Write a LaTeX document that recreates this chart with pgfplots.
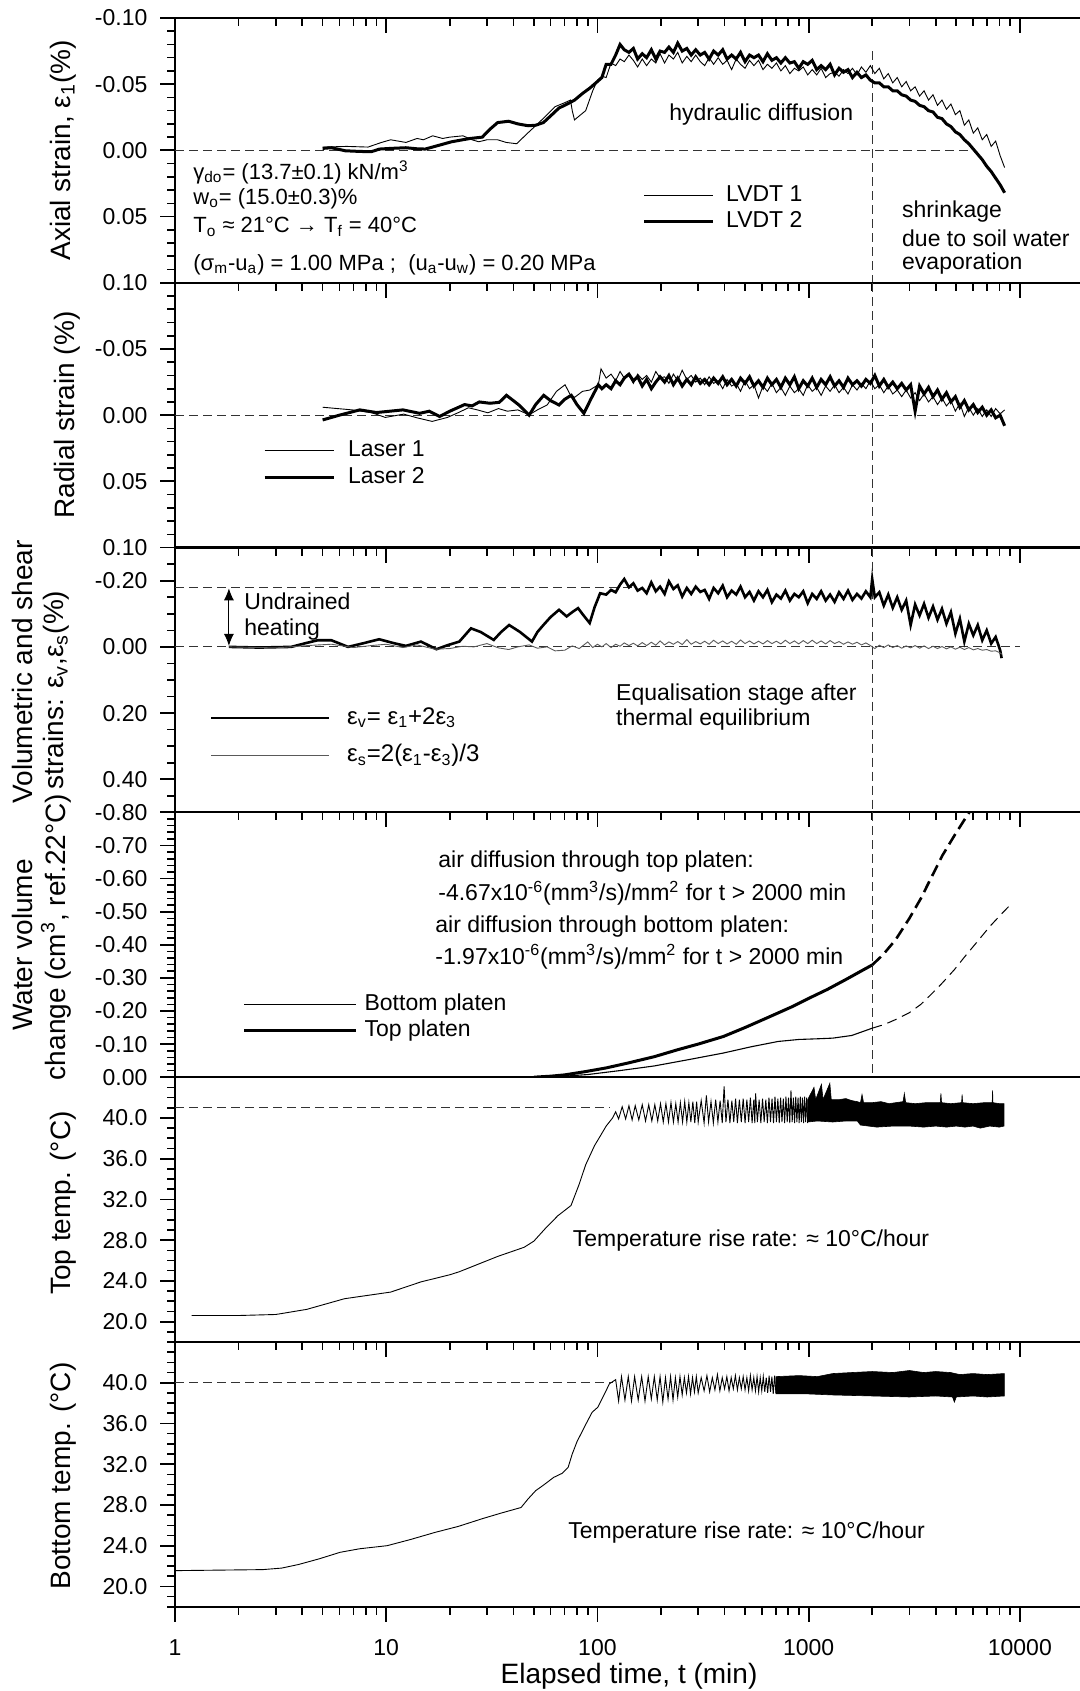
\documentclass[border=0pt]{standalone}
\usepackage{fontspec}
\setmainfont{Liberation Sans}
\usepackage{pgfplots}
\pgfplotsset{compat=1.18}
\usetikzlibrary{arrows.meta}
\newcommand{\fnt}[1]{\fontsize{#1}{#1}\selectfont}
\pgfplotsset{
  mypanel/.style={
    scale only axis, width=454.2pt, height=132.4pt,
    xmin=1, xmax=20000,
    xtick={1,10,100,1000,10000},
    minor xtick={2,3,4,5,6,7,8,9,20,30,40,50,60,70,80,90,200,300,400,500,600,700,800,900,2000,3000,4000,5000,6000,7000,8000,9000,20000},
    xticklabels={},
    tick align=outside,
    ytick pos=left,
    major tick length=7.5pt, minor tick length=4pt,
    axis line style={line width=1.1pt},
    major tick style={line width=0.9pt,black},
    minor tick style={line width=0.8pt,black},
    tick label style={font=\fnt{11.5}},
    yticklabel style={xshift=-2.8pt},
    xticklabel style={yshift=-5.5pt},
    legend cell align=left,
    legend style={draw=none, fill=none, inner sep=0pt, outer sep=0pt,
      nodes={inner sep=0pt, text height=8.5pt, text depth=2.5pt},
      font=\fnt{11.5}, anchor=north west},
  },
  leglen/.style={legend image code/.code={\draw[##1] (0pt,0pt) -- (#1,0pt);}},
  myrev/.style={y dir=reverse, xtick pos=right, xtick align=inside},
  mynrm/.style={xtick pos=left},
  refl/.style={black!80, line width=0.5pt, dash pattern=on 4.5pt off 2.5pt},
  thinl/.style={black, line width=0.45pt},
  thickl/.style={black, line width=1.5pt},
}
\begin{document}
\begin{tikzpicture}
\useasboundingbox (0pt,0pt) rectangle (540pt,845.5pt);
%================ Panel 1: axial strain
\begin{semilogxaxis}[mypanel, myrev, at={(87.5pt,836.5pt)}, anchor=north west,
  ymin=-0.1, ymax=0.1,
  ytick={-0.1,-0.05,0,0.05,0.1}, yticklabels={-0.10,-0.05,0.00,0.05,0.10},
  minor ytick={-0.09,-0.08,-0.07,-0.06,-0.04,-0.03,-0.02,-0.01,0.01,0.02,0.03,0.04,0.06,0.07,0.08,0.09},
  legend style={at={(axis cs:164.2,0.0258)}, column sep=5.65pt, row sep=1.75pt},
  leglen=34.5pt]
\addplot[refl, forget plot] coordinates {(1,0) (6000,0)};
\addplot[refl, forget plot] coordinates {(2000,-0.075) (2000,0.1)};
\addplot[thinl] coordinates {
(5,-0.0025)(6.5,-0.003)(8.2,-0.0025)(9.5,-0.006)(10.5,-0.008)(12.4,-0.006)(14,-0.009)(15,-0.008)(16.6,-0.011)(18.5,-0.009)(20,-0.010)(23.1,-0.011)(25.5,-0.008)(27.4,-0.0065)(30,-0.008)(33.7,-0.008)(37,-0.006)(41.5,-0.005)(46,-0.012)(51.3,-0.019)(57,-0.026)(63,-0.033)(70,-0.036)(74.6,-0.038)(76,-0.030)(77.9,-0.023)(82,-0.026)(88,-0.030)(95,-0.045)(100,-0.053)
(105,-0.056)(110,-0.055)(116,-0.066)(122,-0.064)(128,-0.069)(134,-0.067)(141,-0.072)(148,-0.068)(155,-0.063)(163,-0.069)(171,-0.064)(180,-0.069)(189,-0.066)(198,-0.073)(208,-0.066)(218,-0.072)(229,-0.069)(240,-0.074)(252,-0.066)(265,-0.071)(278,-0.067)(292,-0.072)(307,-0.067)(322,-0.064)(338,-0.070)(355,-0.065)(373,-0.070)(392,-0.065)(411,-0.068)(432,-0.061)(454,-0.069)(476,-0.065)(500,-0.062)(525,-0.068)(551,-0.064)(579,-0.068)(608,-0.061)(638,-0.065)(670,-0.062)(704,-0.066)(739,-0.060)(776,-0.064)(815,-0.058)(856,-0.062)(898,-0.060)(943,-0.063)(990,-0.057)(1040,-0.061)(1092,-0.057)(1146,-0.062)(1204,-0.055)(1264,-0.058)(1327,-0.059)(1393,-0.056)(1463,-0.061)(1536,-0.058)(1613,-0.062)(1694,-0.057)(1778,-0.063)(1867,-0.059)(1960,-0.064)(2058,-0.058)(2161,-0.062)(2269,-0.054)(2383,-0.058)(2502,-0.051)(2627,-0.055)(2758,-0.048)(2896,-0.052)(3041,-0.045)(3193,-0.048)(3353,-0.041)(3520,-0.045)(3696,-0.038)(3881,-0.042)(4075,-0.034)(4279,-0.038)(4493,-0.031)(4717,-0.035)(4953,-0.027)(5201,-0.030)(5461,-0.019)(5734,-0.023)(6021,-0.013)(6322,-0.017)(6638,-0.008)(6970,-0.012)(7318,-0.003)(7684,-0.007)(8068,0.004)(8472,0.013)};
\addlegendentry{LVDT 1}
\addplot[thickl] coordinates {
(5,-0.0015)(5.5,-0.002)(6.4,0.0003)(7.5,0.0008)(8.5,0.001)(9.3,-0.001)(10.5,-0.0015)(12.4,-0.002)(14,-0.0012)(15.3,-0.001)(17,-0.003)(20.4,-0.0065)(23,-0.008)(25,-0.009)(28.5,-0.010)(31,-0.016)(33.7,-0.021)(38,-0.022)(42,-0.020)(47,-0.0186)(51,-0.019)(55.5,-0.021)(60,-0.026)(65.8,-0.032)(72,-0.035)(78,-0.038)(85,-0.043)(92,-0.047)(100,-0.052)
(105,-0.055)(110,-0.065)(116,-0.065)(122,-0.072)(128,-0.080)(134,-0.076)(141,-0.074)(148,-0.077)(155,-0.069)(163,-0.073)(171,-0.070)(180,-0.076)(189,-0.069)(198,-0.075)(208,-0.074)(218,-0.078)(229,-0.074)(240,-0.081)(252,-0.075)(265,-0.077)(278,-0.072)(292,-0.076)(307,-0.072)(322,-0.074)(338,-0.069)(355,-0.075)(373,-0.072)(392,-0.076)(411,-0.069)(432,-0.072)(454,-0.069)(476,-0.074)(500,-0.067)(525,-0.072)(551,-0.070)(579,-0.072)(608,-0.067)(638,-0.073)(670,-0.068)(704,-0.070)(739,-0.066)(776,-0.070)(815,-0.066)(856,-0.067)(898,-0.062)(943,-0.067)(990,-0.065)(1040,-0.068)(1092,-0.061)(1146,-0.064)(1204,-0.061)(1264,-0.065)(1327,-0.057)(1393,-0.062)(1463,-0.059)(1536,-0.061)(1613,-0.055)(1694,-0.059)(1778,-0.055)(1867,-0.057)(1960,-0.053)(2058,-0.051)(2161,-0.051)(2269,-0.048)(2383,-0.048)(2502,-0.045)(2627,-0.045)(2758,-0.042)(2896,-0.041)(3041,-0.038)(3193,-0.037)(3353,-0.034)(3520,-0.033)(3696,-0.030)(3881,-0.029)(4075,-0.025)(4279,-0.024)(4493,-0.020)(4717,-0.018)(4953,-0.014)(5201,-0.012)(5461,-0.008)(5734,-0.005)(6021,-0.001)(6322,0.003)(6638,0.007)(6970,0.012)(7318,0.016)(7684,0.021)(8068,0.026)(8472,0.032)};
\addlegendentry{LVDT 2}
\end{semilogxaxis}
%================ Panel 2: radial strain
\begin{semilogxaxis}[mypanel, myrev, at={(87.5pt,704.1pt)}, anchor=north west,
  ymin=-0.1, ymax=0.1,
  ytick={-0.1,-0.05,0,0.05,0.1}, yticklabels={,-0.05,0.00,0.05,0.10},
  minor ytick={-0.09,-0.08,-0.07,-0.06,-0.04,-0.03,-0.02,-0.01,0.01,0.02,0.03,0.04,0.06,0.07,0.08,0.09},
  legend style={at={(axis cs:2.616,0.0185)}, column sep=6.4pt, row sep=2.5pt},
  leglen=34.5pt]
\addplot[refl, forget plot] coordinates {(1,0) (5000,0)};
\addplot[refl, forget plot] coordinates {(2000,-0.1) (2000,0.1)};
\addplot[thinl] coordinates {
(5,-0.006)(6.9,-0.004)(8.5,-0.002)(9.9,0.0017)(12.1,-0.0008)(14,0.002)(16.5,0.0047)(19.5,0.0017)(22,-0.002)(24.5,-0.0056)(27,-0.004)(30.3,-0.0018)(34,-0.005)(37.5,-0.003)(42,-0.004)(47.5,-0.0003)(52,-0.004)(57.8,-0.0077)(64,-0.018)(70.3,-0.023)(74,-0.016)(78,-0.0135)(85,-0.018)(92,-0.019)(101,-0.023)(104,-0.035)
(110,-0.028)(116,-0.031)(122,-0.026)(128,-0.033)(134,-0.028)(141,-0.030)(148,-0.024)(155,-0.031)(163,-0.027)(171,-0.030)(180,-0.025)(189,-0.033)(198,-0.028)(208,-0.029)(218,-0.024)(229,-0.031)(240,-0.026)(252,-0.034)(265,-0.027)(278,-0.030)(292,-0.025)(307,-0.028)(322,-0.023)(338,-0.029)(355,-0.024)(373,-0.026)(392,-0.020)(411,-0.027)(432,-0.022)(454,-0.024)(476,-0.018)(500,-0.026)(525,-0.020)(551,-0.023)(579,-0.013)(608,-0.022)(638,-0.018)(670,-0.024)(704,-0.017)(739,-0.021)(776,-0.015)(815,-0.022)(856,-0.017)(898,-0.020)(943,-0.015)(990,-0.023)(1040,-0.018)(1092,-0.021)(1146,-0.015)(1204,-0.022)(1264,-0.018)(1327,-0.023)(1393,-0.017)(1463,-0.021)(1536,-0.016)(1613,-0.023)(1694,-0.019)(1778,-0.024)(1867,-0.020)(1960,-0.026)(2058,-0.020)(2161,-0.023)(2269,-0.017)(2383,-0.022)(2502,-0.016)(2627,-0.019)(2758,-0.014)(2896,-0.019)(3041,-0.013)(3193,-0.017)(3353,-0.011)(3520,-0.016)(3696,-0.010)(3881,-0.014)(4075,-0.008)(4279,-0.013)(4493,-0.007)(4717,-0.011)(4953,-0.003)(5201,-0.009)(5461,0.001)(5734,-0.006)(6021,0.000)(6322,-0.005)(6638,0.001)(6970,-0.004)(7318,0.001)(7684,-0.005)(8068,-0.001)(8472,-0.004)};
\addlegendentry{Laser 1}
\addplot[thickl] coordinates {
(5,0.0036)(6,0.000)(7.5,-0.004)(9,-0.002)(10.4,-0.003)(12,-0.004)(14.4,-0.0014)(16,-0.003)(17.9,0.001)(20,-0.003)(23.5,-0.008)(25.5,-0.007)(27.6,-0.010)(31,-0.009)(34.3,-0.0097)(37.1,-0.015)(40,-0.011)(42.5,-0.0077)(47.5,0.000)(51,-0.008)(55.7,-0.015)(60,-0.011)(65.8,-0.0077)(70,-0.012)(75.2,-0.015)(80,-0.008)(86.3,-0.0014)(93,-0.012)(101,-0.023)
(105,-0.020)(110,-0.023)(116,-0.020)(122,-0.026)(128,-0.023)(134,-0.028)(141,-0.031)(148,-0.026)(155,-0.029)(163,-0.022)(171,-0.027)(180,-0.020)(189,-0.025)(198,-0.029)(208,-0.025)(218,-0.030)(229,-0.023)(240,-0.028)(252,-0.022)(265,-0.027)(278,-0.023)(292,-0.029)(307,-0.024)(322,-0.027)(338,-0.023)(355,-0.028)(373,-0.024)(392,-0.029)(411,-0.023)(432,-0.027)(454,-0.022)(476,-0.028)(500,-0.024)(525,-0.029)(551,-0.022)(579,-0.026)(608,-0.021)(638,-0.028)(670,-0.023)(704,-0.027)(739,-0.021)(776,-0.028)(815,-0.023)(856,-0.029)(898,-0.020)(943,-0.026)(990,-0.022)(1040,-0.028)(1092,-0.021)(1146,-0.027)(1204,-0.023)(1264,-0.029)(1327,-0.022)(1393,-0.026)(1463,-0.021)(1536,-0.028)(1613,-0.023)(1694,-0.026)(1778,-0.022)(1867,-0.027)(1960,-0.024)(2058,-0.030)(2161,-0.022)(2269,-0.027)(2383,-0.021)(2502,-0.025)(2627,-0.020)(2758,-0.024)(2896,-0.019)(3041,-0.023)(3193,-0.003)(3353,-0.022)(3520,-0.016)(3696,-0.021)(3881,-0.014)(4075,-0.019)(4279,-0.012)(4493,-0.017)(4717,-0.010)(4953,-0.014)(5201,-0.006)(5461,-0.011)(5734,-0.004)(6021,-0.008)(6322,-0.002)(6638,-0.006)(6970,0.000)(7318,-0.004)(7684,0.002)(8068,0.000)(8472,0.008)};
\addlegendentry{Laser 2}
\end{semilogxaxis}
%================ Panel 3: volumetric and shear strains
\begin{semilogxaxis}[mypanel, myrev, at={(87.5pt,571.7pt)}, anchor=north west,
  ymin=-0.3, ymax=0.5,
  ytick={-0.2,0,0.2,0.4}, yticklabels={-0.20,0.00,0.20,0.40},
  minor ytick={-0.3,-0.25,-0.15,-0.1,-0.05,0.05,0.1,0.15,0.25,0.3,0.35,0.45,0.5},
  legend style={at={(axis cs:1.463,0.182)}, column sep=8.6pt, row sep=7.85pt, font=\fnt{12}},
  leglen=58.75pt]
\addplot[refl, forget plot] coordinates {(1,0) (10000,0)};
\addplot[refl, forget plot] coordinates {(1,-0.18) (150,-0.18)};
\addplot[refl, forget plot] coordinates {(2000,-0.3) (2000,0.5)};
\addplot[black, line width=1.3pt] coordinates {
(1.8,0)(2.5,0.002)(3.55,0.000)(4.2,-0.012)(4.74,-0.02)(5.5,-0.02)(6.6,0.0)(7.8,-0.011)(9.26,-0.023)(10.9,-0.011)(12.4,-0.003)(14.6,-0.016)(17.3,0.007)(19.5,-0.005)(22.2,-0.016)(25.2,-0.056)(28,-0.045)(32.3,-0.021)(35,-0.045)(38.2,-0.066)(43,-0.045)(49,-0.016)(52,-0.045)(55.5,-0.066)(60,-0.09)(65.8,-0.112)(71.5,-0.092)(76,-0.105)(81,-0.117)(86,-0.095)(91.9,-0.072)(97,-0.12)(103,-0.162)
(110,-0.158)(116,-0.172)(122,-0.165)(128,-0.188)(134,-0.205)(141,-0.180)(148,-0.192)(155,-0.170)(163,-0.178)(171,-0.162)(180,-0.195)(189,-0.168)(198,-0.182)(208,-0.160)(218,-0.198)(229,-0.175)(240,-0.186)(252,-0.152)(265,-0.178)(278,-0.160)(292,-0.182)(307,-0.166)(322,-0.172)(338,-0.145)(355,-0.178)(373,-0.162)(392,-0.185)(411,-0.150)(432,-0.170)(454,-0.158)(476,-0.182)(500,-0.150)(525,-0.166)(551,-0.140)(579,-0.168)(608,-0.150)(638,-0.172)(670,-0.135)(704,-0.158)(739,-0.146)(776,-0.170)(815,-0.140)(856,-0.160)(898,-0.150)(943,-0.168)(990,-0.132)(1040,-0.160)(1092,-0.145)(1146,-0.168)(1204,-0.140)(1264,-0.158)(1327,-0.136)(1393,-0.165)(1463,-0.145)(1536,-0.170)(1613,-0.142)(1694,-0.160)(1778,-0.146)(1867,-0.168)(1960,-0.150)(2000,-0.205)(2058,-0.150)(2161,-0.165)(2269,-0.125)(2383,-0.158)(2502,-0.118)(2627,-0.150)(2758,-0.112)(2896,-0.140)(3041,-0.066)(3193,-0.128)(3353,-0.095)(3520,-0.130)(3696,-0.088)(3881,-0.122)(4075,-0.082)(4279,-0.115)(4493,-0.070)(4717,-0.105)(4953,-0.040)(5201,-0.085)(5461,-0.016)(5734,-0.070)(6021,-0.035)(6322,-0.066)(6638,-0.020)(6970,-0.050)(7318,-0.010)(7684,-0.030)(8068,0.010)(8200,0.034)};
\addlegendentry{ε\textsubscript{v}= ε\textsubscript{1}+2ε\textsubscript{3}}
\addplot[black!65, line width=0.45pt] coordinates {
(1.8,0)(3,0.003)(4.5,-0.005)(5.5,-0.008)(7,0.002)(8.5,-0.004)(10,-0.008)(12,0.002)(14,-0.006)(17,0.007)(20,0.005)(23,-0.002)(26,0.000)(30,-0.01)(34,0.003)(38,0.008)(42,0.000)(47.5,-0.006)(52,0.004)(57.8,0.000)(63,0.012)(70,0.01)(76,-0.003)(82,0.005)(90,-0.015)(95,0.002)(100,-0.008)
(105,0.000)(110,-0.010)(116,0.002)(122,-0.008)(128,-0.002)(134,-0.012)(141,-0.004)(148,-0.011)(155,-0.003)(163,-0.013)(171,-0.004)(180,-0.014)(189,-0.005)(198,-0.018)(208,-0.006)(218,-0.015)(229,-0.008)(240,-0.016)(252,-0.007)(265,-0.022)(278,-0.008)(292,-0.016)(307,-0.009)(322,-0.017)(338,-0.008)(355,-0.020)(373,-0.010)(392,-0.018)(411,-0.009)(432,-0.017)(454,-0.008)(476,-0.021)(500,-0.010)(525,-0.018)(551,-0.009)(579,-0.017)(608,-0.009)(638,-0.019)(670,-0.010)(704,-0.017)(739,-0.009)(776,-0.020)(815,-0.010)(856,-0.018)(898,-0.009)(943,-0.019)(990,-0.010)(1040,-0.020)(1092,-0.010)(1146,-0.018)(1204,-0.009)(1264,-0.019)(1327,-0.010)(1393,-0.016)(1463,-0.008)(1536,-0.015)(1613,-0.008)(1694,-0.014)(1778,-0.006)(1867,-0.012)(1960,-0.004)(2058,0.005)(2161,-0.005)(2269,0.002)(2383,-0.006)(2502,0.002)(2627,-0.004)(2758,0.004)(2896,-0.003)(3041,0.003)(3193,-0.004)(3353,0.004)(3520,-0.003)(3696,0.005)(3881,-0.002)(4075,0.005)(4279,-0.001)(4493,0.006)(4717,0.000)(4953,0.007)(5201,0.001)(5461,0.008)(5734,0.002)(6021,0.009)(6322,0.005)(6638,0.010)(6970,0.008)(7318,0.013)(7684,0.012)(8068,0.018)(8200,0.022)};
\addlegendentry{ε\textsubscript{s}=2(ε\textsubscript{1}-ε\textsubscript{3})/3}
\draw[{Latex[length=6pt,width=5pt]}-{Latex[length=6pt,width=5pt]}, line width=0.5pt] (axis cs:1.8,-0.003) -- (axis cs:1.8,-0.177);
\end{semilogxaxis}
%================ Panel 4: water volume change
\begin{semilogxaxis}[mypanel, myrev, at={(87.5pt,439.3pt)}, anchor=north west,
  ymin=-0.8, ymax=0,
  ytick={-0.8,-0.7,-0.6,-0.5,-0.4,-0.3,-0.2,-0.1,0},
  yticklabels={-0.80,-0.70,-0.60,-0.50,-0.40,-0.30,-0.20,-0.10,0.00},
  minor ytick={-0.78,-0.76,-0.74,-0.72,-0.68,-0.66,-0.64,-0.62,-0.58,-0.56,-0.54,-0.52,-0.48,-0.46,-0.44,-0.42,-0.38,-0.36,-0.34,-0.32,-0.28,-0.26,-0.24,-0.22,-0.18,-0.16,-0.14,-0.12,-0.08,-0.06,-0.04,-0.02},
  legend style={at={(axis cs:2.092,-0.2526)}, column sep=3.45pt, row sep=2.15pt},
  leglen=56pt]
\addplot[refl, forget plot] coordinates {(2000,-0.8) (2000,0)};
\addplot[black, line width=0.55pt] coordinates {(50,0)(70,-0.003)(90,-0.008)(128,-0.02)(186,-0.034)(270,-0.053)(395,-0.073)(535,-0.092)(718,-0.108)(900,-0.114)(1100,-0.116)(1300,-0.118)(1600,-0.126)(2000,-0.148)};
\addlegendentry{Bottom platen}
\addplot[black, line width=1.5pt] coordinates {(50,0)(60,-0.003)(70,-0.007)(88,-0.017)(110,-0.028)(140,-0.043)(186,-0.062)(240,-0.083)(300,-0.100)(395,-0.123)(500,-0.150)(650,-0.182)(842,-0.214)(1000,-0.238)(1225,-0.265)(1500,-0.295)(1800,-0.323)(2000,-0.339)};
\addlegendentry{Top platen}
\addplot[black, line width=1.3pt, dash pattern=on 6pt off 3pt, forget plot] coordinates {(2000,-0.339)(2250,-0.37)(2580,-0.415)(3000,-0.48)(3400,-0.54)(3760,-0.596)(4300,-0.67)(4900,-0.73)(5470,-0.778)(5900,-0.81)};
\addplot[black, line width=0.5pt, dash pattern=on 5pt off 3pt, forget plot] coordinates {(2000,-0.148)(2300,-0.160)(2600,-0.175)(3000,-0.195)(3400,-0.220)(3800,-0.250)(4300,-0.285)(4900,-0.325)(5500,-0.365)(6300,-0.410)(7200,-0.455)(8100,-0.490)(8990,-0.520)};
\end{semilogxaxis}
%================ Panel 5: top temperature
\begin{semilogxaxis}[mypanel, mynrm, at={(87.5pt,306.9pt)}, anchor=north west,
  ymin=18, ymax=44,
  ytick={20,24,28,32,36,40}, yticklabels={20.0,24.0,28.0,32.0,36.0,40.0},
  minor ytick={18,19,21,22,23,25,26,27,29,30,31,33,34,35,37,38,39,41,42,43,44}]
\addplot[refl] coordinates {(1,41) (115,41)};
\addplot[black, line width=0.45pt] coordinates {
(1.2,20.6)(2,20.6)(3,20.7)(4.2,21.2)(6.35,22.25)(10.5,22.9)(14.6,23.9)(20,24.6)(22.2,24.9)(33.7,26.4)(45,27.3)(50,27.9)(57,29.2)(65,30.4)(75,31.4)(82,33.5)(88,35.4)(97,37.3)(103,38.2)(110,39.2)(118,40.0)(122,40.6)
(126,39.9)(131,41.1)(136,39.9)(141,41.2)(146,39.8)(151,41.2)(157,39.8)(163,41.3)(169,39.7)(175,41.3)(181,39.7)(187,41.3)(193,39.7)(199,41.4)(205,39.6)(211,41.4)(217,39.6)(223,41.5)(229,39.6)(235,41.4)(241,39.6)(247,41.5)(253,39.6)(259,41.6)(265,39.6)(271,41.5)(277,39.6)(283,41.6)(289,39.5)(295,41.6)(300,39.6)(310,41.7)(320,39.5)(328,42.2)(336,39.6)(345,41.6)(354,39.5)(363,41.8)(372,39.6)(381,41.7)(390,39.5)(398,43.1)(406,39.6)(415,41.8)(424,39.5)(433,41.7)(442,39.6)(451,41.9)(460,39.5)(470,41.8)(480,39.6)(490,41.9)(500,39.5)(510,41.8)(520,39.6)(530,42.0)(540,39.5)(550,41.8)(556,39.5)(561,42.4)(572,39.6)(583,41.8)(594,39.5)(605,41.9)(616,39.6)(627,41.8)(638,39.5)(649,42.0)(660,39.6)(671,41.9)(682,39.5)(693,42.1)(704,39.6)(715,41.9)(726,39.5)(737,42.0)(748,39.6)(759,41.9)(770,39.5)(781,42.1)(792,39.6)(803,42.0)(814,39.5)(825,42.7)(836,39.6)(847,42.0)(858,39.5)(869,42.1)(880,39.6)(891,42.0)(902,39.5)(913,42.1)(924,39.6)(935,42.0)(946,39.5)(957,42.1)(968,39.6)(979,42.0)(990,39.5)};
\addplot[black, fill=black, line width=0.3pt] coordinates {
(990,41.8)(1060,43.0)(1080,41.8)(1150,43.3)(1170,41.8)(1260,43.4)(1280,41.8)(1400,41.8)(1500,41.9)(1600,41.7)(1700,41.6)(1760,41.5)(1790,42.3)(1820,41.5)(2000,41.5)(2200,41.6)(2400,41.4)(2800,41.6)(2840,42.4)(2880,41.5)(3200,41.4)(3600,41.5)(4200,41.5)(4230,42.4)(4260,41.5)(4700,41.4)(5300,41.5)(5330,42.3)(5360,41.5)(6000,41.4)(6800,41.5)(7400,41.5)(7430,42.7)(7460,41.5)(8000,41.4)(8410,41.4)
(8410,39.2)(8000,39.1)(7200,39.2)(6500,39.0)(6000,39.2)(5500,39.1)(5000,39.2)(4500,39.1)(4000,39.2)(3500,39.1)(3000,39.2)(2500,39.2)(2100,39.1)(1760,39.3)(1700,39.7)(1500,39.7)(1300,39.6)(1100,39.7)(990,39.6)} -- cycle;
\end{semilogxaxis}
%================ Panel 6: bottom temperature
\begin{semilogxaxis}[mypanel, mynrm, at={(87.5pt,174.5pt)}, anchor=north west,
  ymin=18, ymax=44,
  ytick={20,24,28,32,36,40}, yticklabels={20.0,24.0,28.0,32.0,36.0,40.0},
  minor ytick={18,19,21,22,23,25,26,27,29,30,31,33,34,35,37,38,39,41,42,43,44},
  xticklabels={1,10,100,1000,10000}]
\addplot[refl] coordinates {(1,40) (118,40)};
\addplot[black, line width=0.45pt] coordinates {
(1,21.55)(2.6,21.65)(3.2,21.8)(3.84,22.15)(4.8,22.7)(6.05,23.35)(7.5,23.7)(10.1,24.0)(13,24.6)(17,25.3)(22,25.9)(28.5,26.65)(35,27.2)(43.5,27.75)(47,28.6)(51,29.4)(56,30.0)(62,30.7)(68,31.1)(72.7,31.7)(76,33.0)(80,34.2)(87,35.7)(94.4,37.1)(100.5,37.6)(108,38.9)(114,39.9)(122,40.3)
(126,38.2)(130,40.6)(135,38.3)(140,40.6)(145,38.2)(150,40.6)(156,38.3)(162,40.6)(168,38.2)(174,40.6)(180,38.4)(186,40.6)(192,38.3)(198,40.6)(204,38.1)(210,40.5)(216,38.4)(222,40.6)(228,38.3)(234,40.5)(240,38.6)(246,40.6)(252,38.8)(258,40.5)(264,39.0)(270,40.6)(276,38.9)(282,40.5)(288,39.1)(294,40.6)(300,39.0)
(310,40.5)(320,39.2)(330,40.7)(340,39.1)(350,40.5)(360,39.3)(370,40.8)(380,39.2)(390,40.5)(400,39.4)(410,40.6)(420,39.2)(430,40.5)(440,39.4)(450,40.7)(460,39.3)(470,40.5)(480,39.4)(490,40.6)(500,39.3)(510,40.5)(520,39.2)(530,40.7)(540,39.3)(550,40.5)(560,39.2)(570,40.6)(580,39.1)(590,40.5)(600,39.2)(610,40.6)(620,39.1)(630,40.5)(640,39.0)(650,40.7)(660,39.1)(670,40.6)(680,38.9)(690,40.7)(700,39.0)};
\addplot[black, fill=black, line width=0.3pt] coordinates {
(700,40.6)(900,40.7)(1100,40.6)(1300,40.9)(1600,41.0)(2000,41.1)(2500,41.0)(3000,41.2)(3500,41.0)(4000,41.1)(4700,41.0)(5200,40.8)(6000,40.9)(7000,40.8)(8440,40.9)
(8440,38.7)(7000,38.6)(6000,38.7)(5000,38.6)(4900,38.1)(4800,38.6)(4000,38.7)(3000,38.6)(2000,38.7)(1300,38.8)(1000,38.9)(700,38.9)} -- cycle;
\end{semilogxaxis}
%================ labels and annotations
\begin{scope}[every node/.style={inner sep=0pt}]
\node[rotate=90, font=\fnt{14}] at (31.5pt,770.3pt) {Axial strain, ε\textsubscript{1}(\%)};
\node[rotate=90, font=\fnt{14}] at (33.75pt,638pt) {Radial strain (\%)};
\node[rotate=90, font=\fnt{14}] at (11pt,509.5pt) {Volumetric and shear};
\node[rotate=90, font=\fnt{14}] at (28pt,500.5pt) {strains: ε\textsubscript{v},ε\textsubscript{s}(\%)};
\node[rotate=90, font=\fnt{14}] at (11pt,373pt) {Water volume};
\node[rotate=90, font=\fnt{14}] at (28pt,377pt) {change (cm\textsuperscript{3}, ref.22°C)};
\node[rotate=90, font=\fnt{14}] at (31.5pt,244pt) {Top temp. (°C)};
\node[rotate=90, font=\fnt{14}] at (31.5pt,107.5pt) {Bottom temp. (°C)};
\node[font=\fnt{14}] at (314.5pt,7.3pt) {Elapsed time, t (min)};
\node[anchor=west, font=\fnt{11}] at (96.5pt,759.5pt) {γ\textsubscript{do}= (13.7±0.1) kN/m\textsuperscript{3}};
\node[anchor=west, font=\fnt{11}] at (96.5pt,746pt) {w\textsubscript{o}= (15.0±0.3)\%};
\node[anchor=west, font=\fnt{11}] at (96.5pt,732pt) {T\textsubscript{o} ≈ 21°C → T\textsubscript{f} = 40°C};
\node[anchor=west, font=\fnt{11}] at (96.5pt,713pt) {(σ\textsubscript{m}-u\textsubscript{a}) = 1.00 MPa ;\ \ (u\textsubscript{a}-u\textsubscript{w}) = 0.20 MPa};
\node[anchor=west, font=\fnt{11.5}] at (334.5pt,788pt) {hydraulic diffusion};
\node[anchor=west, font=\fnt{11.5}] at (450.9pt,739.5pt) {shrinkage};
\node[anchor=west, font=\fnt{11.5}] at (450.9pt,726.5pt) {due to soil water};
\node[anchor=west, font=\fnt{11.5}] at (450.9pt,713.7pt) {evaporation};
\node[anchor=west, font=\fnt{11.5}] at (122pt,544.7pt) {Undrained};
\node[anchor=west, font=\fnt{11.5}] at (122pt,530.9pt) {heating};
\node[anchor=west, font=\fnt{11.5}] at (307.9pt,498.3pt) {Equalisation stage after};
\node[anchor=west, font=\fnt{11.5}] at (307.9pt,485.5pt) {thermal equilibrium};
\node[anchor=west, font=\fnt{11.5}] at (219pt,414.6pt) {air diffusion through top platen:};
\node[anchor=west, font=\fnt{11.5}] at (219pt,398.8pt) {-4.67x10\textsuperscript{-6}(mm\textsuperscript{3}/s)/mm\textsuperscript{2} for t > 2000 min};
\node[anchor=west, font=\fnt{11.5}] at (217.5pt,382.1pt) {air diffusion through bottom platen:};
\node[anchor=west, font=\fnt{11.5}] at (217.5pt,367.1pt) {-1.97x10\textsuperscript{-6}(mm\textsuperscript{3}/s)/mm\textsuperscript{2} for t > 2000 min};
\node[anchor=west, font=\fnt{11.5}] at (286.2pt,225.1pt) {Temperature rise rate: ≈ 10°C/hour};
\node[anchor=west, font=\fnt{11.5}] at (284pt,79.1pt) {Temperature rise rate: ≈ 10°C/hour};
\end{scope}
\end{tikzpicture}
\end{document}
